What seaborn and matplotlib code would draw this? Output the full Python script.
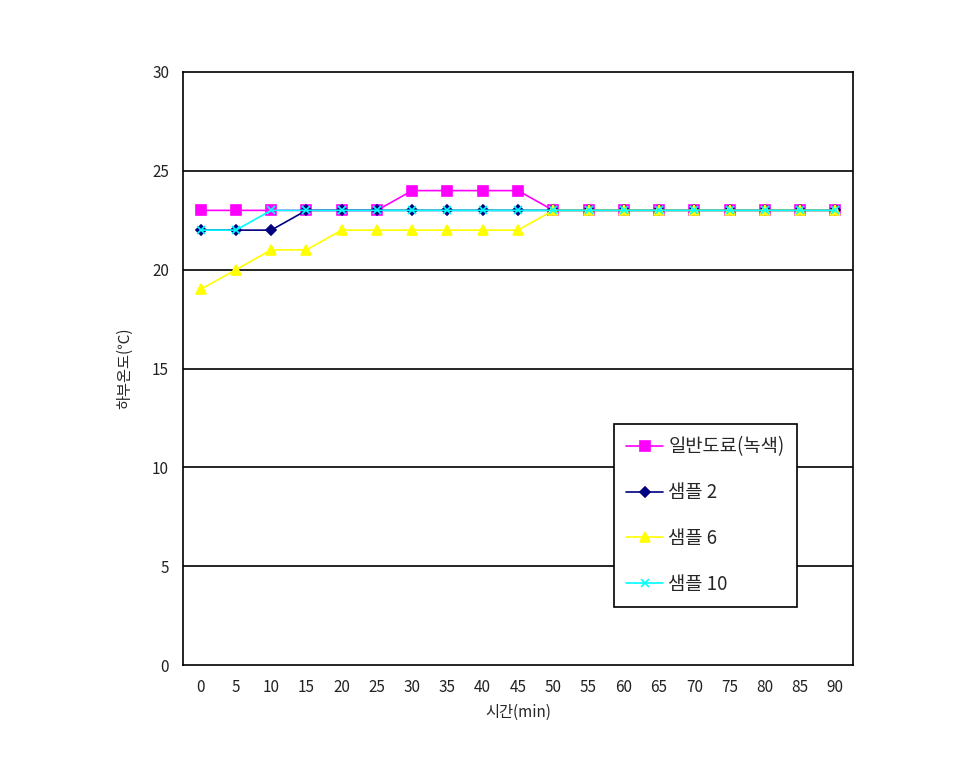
import matplotlib
matplotlib.use("Agg")
import matplotlib.pyplot as plt
import seaborn as sns
import pandas as pd
import numpy as np

times = [0, 5, 10, 15, 20, 25, 30, 35, 40, 45, 50, 55, 60, 65, 70, 75, 80, 85, 90]
general = [23, 23, 23, 23, 23, 23, 24, 24, 24, 24, 23, 23, 23, 23, 23, 23, 23, 23, 23]
sample2 = [22, 22, 22, 23, 23, 23, 23, 23, 23, 23, 23, 23, 23, 23, 23, 23, 23, 23, 23]
sample6 = [19, 20, 21, 21, 22, 22, 22, 22, 22, 22, 23, 23, 23, 23, 23, 23, 23, 23, 23]
sample10 = [22, 22, 23, 23, 23, 23, 23, 23, 23, 23, 23, 23, 23, 23, 23, 23, 23, 23, 23]
series_names = ["일반도료(녹색)", "샘플 2", "샘플 6", "샘플 10"]

sns.set_theme(style="white")
plt.rcParams['font.family'] = ['Noto Sans CJK KR', 'DejaVu Sans']

fig = plt.figure(figsize=(9.66, 7.72), dpi=100)
ax = fig.add_axes([183/966, 1-665/772, 670/966, 593/772])

pos = list(range(len(times)))
styles = [
    (general, "#FF00FF", "s", 7),
    (sample2, "#000080", "D", 5),
    (sample6, "#FFFF00", "^", 7),
    (sample10, "#00FFFF", "x", 6),
]
for (vals, color, marker, ms), name in zip(styles, series_names):
    df = pd.DataFrame({"pos": pos, "val": vals})
    sns.lineplot(data=df, x="pos", y="val", ax=ax, color=color, marker=marker,
                 markersize=ms, markeredgecolor=color, markeredgewidth=1.2,
                 linewidth=1.2, label=name)

ax.set_xlim(-0.5, len(times) - 0.5)
ax.set_ylim(0, 30)
ax.set_yticks([0, 5, 10, 15, 20, 25, 30])
ax.set_xticks(pos)
ax.set_xticklabels([str(t) for t in times])
for y in [5, 10, 15, 20, 25]:
    ax.axhline(y, color="black", linewidth=1.2, zorder=0)
for s in ax.spines.values():
    s.set_color("black")
    s.set_linewidth(1.2)
ax.tick_params(axis="both", labelsize=11, colors="#222222", length=0, pad=10)
ax.set_xlabel("시간(min)", fontsize=11, labelpad=6)
ax.set_ylabel("하부온도(℃)", fontsize=11, labelpad=14)

leg = ax.legend(loc="upper left", bbox_to_anchor=(0.643, 0.406), borderaxespad=0,
                frameon=True, fancybox=False, fontsize=13.5,
                handlelength=2.0, handletextpad=0.25, labelspacing=1.32,
                borderpad=0.65, framealpha=1)
leg.get_frame().set_edgecolor("black")
leg.get_frame().set_linewidth(1.2)

fig.savefig("out.png", dpi=100)
